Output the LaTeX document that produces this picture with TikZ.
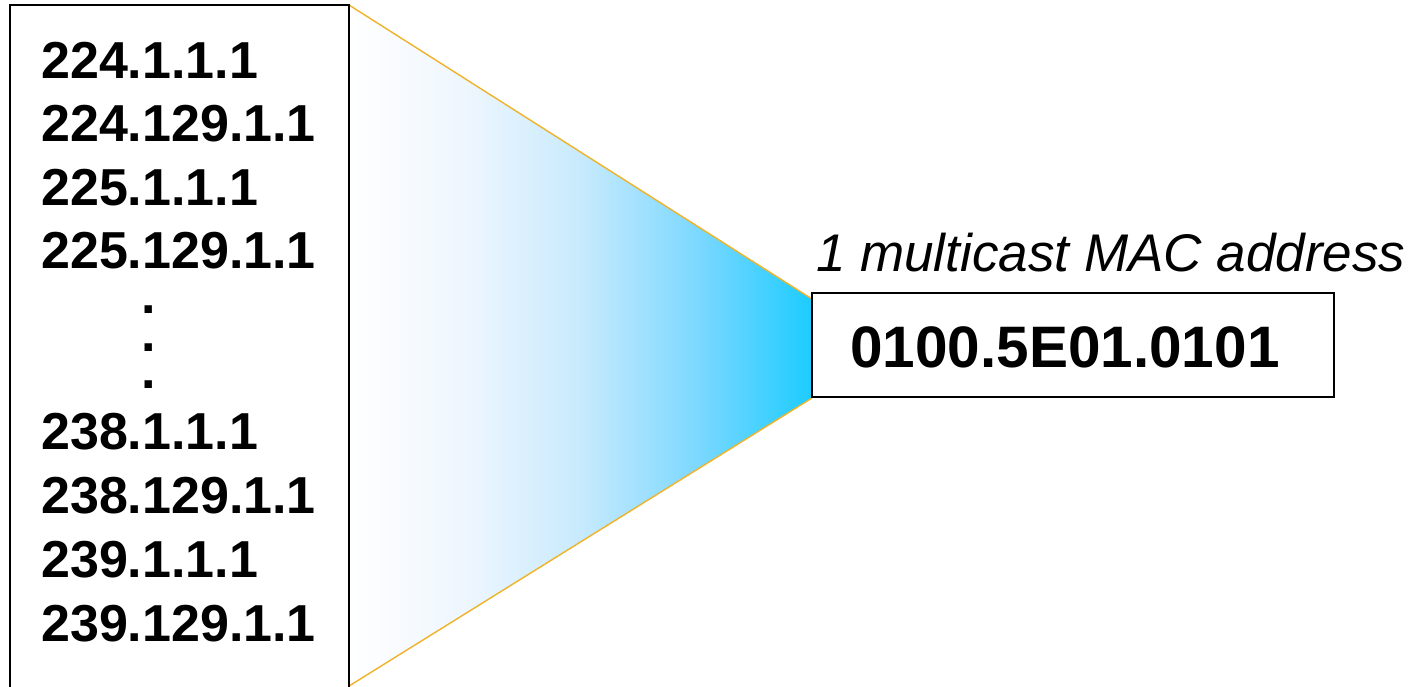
\documentclass[tikz,border=0pt]{standalone}
\usepackage{fontspec}
\setmainfont{Liberation Sans}
\definecolor{cyanend}{RGB}{28,204,255}
\definecolor{orangeline}{RGB}{240,178,40}
\pgfdeclarehorizontalshading{fanshade}{100bp}{rgb(0bp)=(1,1,1); rgb(25bp)=(1,1,1); rgb(37.5bp)=(0.933,0.965,0.996); rgb(50bp)=(0.784,0.918,0.992); rgb(62.5bp)=(0.49,0.847,1); rgb(75bp)=(0.11,0.8,1); rgb(100bp)=(0.11,0.8,1)}
\tikzset{
  addr/.style={anchor=base west, inner sep=0pt, font=\fontsize{52}{62}\selectfont\bfseries},
  dotrow/.style={anchor=base, inner sep=0pt, text height=9pt, text depth=0pt, font=\fontsize{52}{62}\selectfont\bfseries},
  mac/.style={anchor=base west, inner sep=0pt, font=\fontsize{58.5}{70}\selectfont\bfseries},
  lbl/.style={anchor=base west, inner sep=0pt, font=\fontsize{53}{64}\selectfont\itshape},
  boxline/.style={draw=black, line width=2.6pt},
  fanline/.style={draw=orangeline, line width=1.4pt}
}
\begin{document}
\begin{tikzpicture}[x=1pt,y=-1pt]
\useasboundingbox (0,0) rectangle (1420,686);
% fan (triangle) corners
\coordinate (ft) at (349,5);
\coordinate (fb) at (349,686);
\coordinate (rt) at (812,299);
\coordinate (rb) at (812,398);
\shade[shading=fanshade] (ft) -- (rt) -- (rb) -- (fb) -- cycle;
\draw[fanline] (ft) -- (rt);
\draw[fanline] (fb) -- (rb);
% left box (open at the bottom)
\draw[boxline] (10,700) -- (10,5) -- (349,5) -- (349,700);
% addresses
\node[addr] (a1) at (41,78) {224.1.1.1};
\node[addr] (a2) at (41,141.5) {224.129.1.1};
\node[addr] (a3) at (41,205) {225.1.1.1};
\node[addr] (a4) at (41,268.5) {225.129.1.1};
\node[dotrow] (d1) at (149,313) {.};
\node[dotrow] (d2) at (149,351) {.};
\node[dotrow] (d3) at (149,388) {.};
\node[addr] (a5) at (41,449) {238.1.1.1};
\node[addr] (a6) at (41,513) {238.129.1.1};
\node[addr] (a7) at (41,577) {239.1.1.1};
\node[addr] (a8) at (41,641) {239.129.1.1};
% MAC box
\draw[boxline, fill=white] (812,293) rectangle (1334,397);
\node[mac] (macaddr) at (850,367) {0100.5E01.0101};
\node[lbl] (maclbl) at (816,271) {1 multicast MAC address};
\end{tikzpicture}
\end{document}
